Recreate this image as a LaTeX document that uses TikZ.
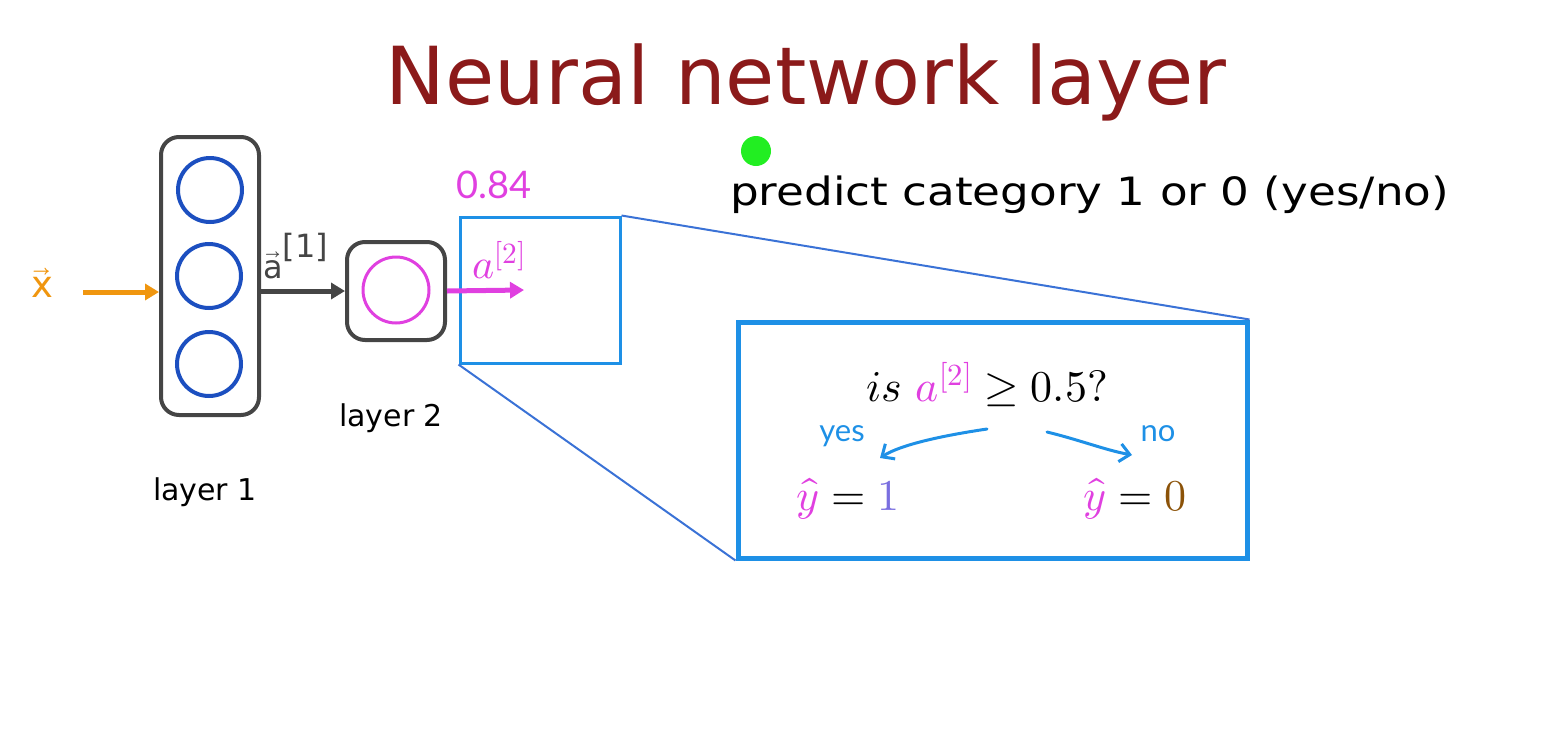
\documentclass[tikz,border=0pt]{standalone}
\usepackage{fontspec}
\usepackage{unicode-math}
\setmainfont{DejaVu Sans}
\setmathfont{Latin Modern Math}
\newfontfamily\hand{Lato}
\usetikzlibrary{arrows.meta}
\definecolor{titlered}{HTML}{8B1A1A}
\definecolor{nodeblue}{HTML}{1C4FC0}
\definecolor{boxgray}{HTML}{454545}
\definecolor{xorange}{HTML}{F0960F}
\definecolor{magen}{HTML}{E040E0}
\definecolor{sky}{HTML}{1E90E6}
\definecolor{linkblue}{HTML}{3A72D6}
\definecolor{onecol}{HTML}{7A6FE0}
\definecolor{zerocol}{HTML}{8B5208}
\definecolor{dotgreen}{HTML}{22EE22}
\tikzset{
  layerbox/.style={draw=boxgray,line width=4pt,rounded corners=18pt},
  neuron/.style={circle,draw=nodeblue,line width=4pt,minimum size=64pt,inner sep=0pt},
  outneuron/.style={circle,draw=magen,line width=3pt,minimum size=66pt,inner sep=0pt},
  flow/.style={line width=5pt,-{Triangle[length=14pt,width=16pt]}},
  zoomline/.style={draw=linkblue,line width=2pt},
  handarrow/.style={draw=sky,line width=3pt,line cap=round,-{Straight Barb[length=10pt,width=18pt,line width=3pt]}},
  lbl/.style={inner sep=0pt,font=\fontsize{30}{34}\selectfont},
  mathlbl/.style={inner sep=0pt,font=\fontsize{44}{48}\selectfont,anchor=base},
  handlbl/.style={text=sky,inner sep=0pt,font=\hand\fontsize{31}{34}\selectfont},
}
\begin{document}
\begin{tikzpicture}[x=1pt,y=-1pt]
\useasboundingbox (0,0) rectangle (1555,739);
% title
\node[text=titlered,font=\fontsize{80}{90}\selectfont,anchor=base] (title) at (806,104) {Neural network layer};
% green dot
\node[circle,fill=dotgreen,minimum size=30pt,inner sep=0pt] (dot) at (756,151) {};
% predict text
\node[anchor=base west,inner sep=0pt,font=\fontsize{39}{44}\selectfont] (pred) at (730,205) {\scalebox{1.16}[1]{predict category 1 or 0 (yes/no)}};
% layer 1
\node[layerbox,minimum width=98pt,minimum height=278pt] (L1) at (210,276) {};
\node[neuron] (n1) at (210,190) {};
\node[neuron] (n2) at (209,276) {};
\node[neuron] (n3) at (209,364) {};
\node[lbl,anchor=base] (l1lab) at (205,500) {layer 1};
% input
\node[text=xorange,inner sep=0pt,font=\fontsize{37}{40}\selectfont] (x) at (42,283) {$\vec{\mbox{x}}$};
\coordinate (xs) at (83,292);
\draw[flow,draw=xorange,fill=xorange] (xs) -- (L1.west |- xs);
% layer 2
\node[layerbox,minimum width=98pt,minimum height=98pt] (L2) at (396,291) {};
\node[outneuron] (o) at (396,290) {};
\node[lbl,anchor=base] (l2lab) at (391,426) {layer 2};
\draw[flow,draw=boxgray,fill=boxgray] (L1.east |- L2) -- (L2.west);
\node[text=boxgray,inner sep=0pt,font=\fontsize{32}{36}\selectfont] (a1) at (296,256) {$\vec{\mbox{a}}^{\mbox{[1]}}$};
% zoom boxes
\node[draw=sky,line width=3pt,minimum width=160pt,minimum height=146pt,inner sep=0pt] (small) at (540,290) {};
\coordinate (aend) at (524,290);
\draw[flow,draw=magen,fill=magen] (L2.east) -- (aend);
\node[text=magen,inner sep=0pt,font=\fontsize{42}{46}\selectfont] (a2) at (499,260) {$a^{[2]}$};
\node[text=magen,inner sep=0pt,font=\hand\fontsize{38}{40}\selectfont] (v) at (494,185) {0.84};
\node[draw=sky,line width=5pt,minimum width=509pt,minimum height=236pt,inner sep=0pt] (big) at (992.5,440) {};
\draw[zoomline] (small.north east) -- (big.north east);
\draw[zoomline] (small.south west) -- (big.south west);
% decision
\node[mathlbl] (q) at (987,401) {$is\ {\color{magen}a^{[2]}}\geq 0.5?$};
\node[handlbl] (yes) at (842,436) {yes};
\node[handlbl] (no) at (1158,434) {no};
\coordinate (ys) at (987,429);
\coordinate (ye) at (880,458);
\coordinate (ns) at (1047,432);
\coordinate (ne) at (1132,455);
\draw[handarrow] (ys) .. controls (940,436) and (900,445) .. (ye);
\draw[handarrow] (ns) .. controls (1080,440) and (1105,450) .. (ne);
\node[mathlbl] (y1) at (848,510) {${\color{magen}\hat{y}} = {\color{onecol}1}$};
\node[mathlbl] (y0) at (1135,510) {${\color{magen}\hat{y}} = {\color{zerocol}0}$};
\end{tikzpicture}
\end{document}
